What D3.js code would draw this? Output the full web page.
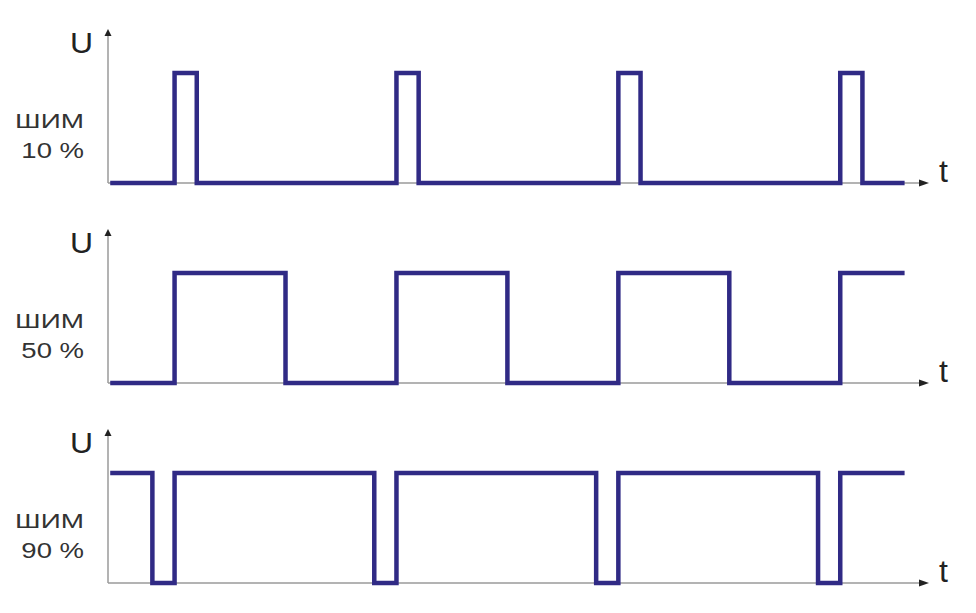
<!DOCTYPE html>
<html><head><meta charset="utf-8">
<script src="https://cdn.jsdelivr.net/npm/d3@7"></script>
<style>body{margin:0;background:#fff}svg{display:block}</style>
</head><body>
<svg id="c" width="976" height="613"></svg>
<script>
// Duty-cycle labels
const labels = ["ШИМ", "ШИМ", "ШИМ"];
const duties = ["10 %", "50 %", "90 %"];
// Edge times (in time units) and levels after each edge (step-after)
const times10 = [0.1, 3, 4, 13, 14, 23, 24, 33, 34, 35.9];
const levels10 = [0, 1, 0, 1, 0, 1, 0, 1, 0, 0];
const times50 = [0.1, 3, 8, 13, 18, 23, 28, 33, 35.9];
const levels50 = [0, 1, 0, 1, 0, 1, 0, 1, 1];
const times90 = [0.1, 2, 3, 12, 13, 22, 23, 32, 33, 35.9];
const levels90 = [1, 0, 1, 0, 1, 0, 1, 0, 1, 1];
const seriesTimes = [times10, times50, times90];
const seriesLevels = [levels10, levels50, levels90];

const svg = d3.select("#c");
const x = d3.scaleLinear().domain([0, 37]).range([108, 929]);
const baselines = [183, 383, 583];
const color = "#302a85";
const axisColor = "#9a9a9a";
const font = "Liberation Sans, Arial, sans-serif";

baselines.forEach((b, i) => {
  const y = d3.scaleLinear().domain([0, 1]).range([b, b - 110]);
  const g = svg.append("g");
  // x axis
  g.append("line").attr("x1", x(0)).attr("x2", x(37) - 6).attr("y1", b).attr("y2", b)
    .attr("stroke", axisColor).attr("stroke-width", 1.5);
  g.append("path").attr("d", `M${x(37)},${b} L${x(37) - 10},${b - 3.5} L${x(37) - 10},${b + 3.5} Z`).attr("fill", "#222");
  // y axis
  const top = b - 154;
  g.append("line").attr("x1", x(0)).attr("x2", x(0)).attr("y1", b).attr("y2", top + 6)
    .attr("stroke", axisColor).attr("stroke-width", 1.5);
  g.append("path").attr("d", `M${x(0)},${top} L${x(0) - 3.5},${top + 7} L${x(0) + 3.5},${top + 7} Z`).attr("fill", "#222");
  // signal
  const data = seriesTimes[i].map((t, k) => [t, seriesLevels[i][k]]);
  g.append("path").datum(data)
    .attr("d", d3.line().x(d => x(d[0])).y(d => y(d[1])).curve(d3.curveStepAfter))
    .attr("fill", "none").attr("stroke", color).attr("stroke-width", 4.5)
    .attr("stroke-linejoin", "miter").attr("stroke-linecap", "butt");
  // texts
  g.append("text").attr("transform", `translate(70,${b - 130}) scale(1.1,1)`).text("U")
    .attr("font-family", font).attr("font-size", 29).attr("fill", "#222");
  g.append("text").attr("x", 939).attr("y", b - 1).text("t")
    .attr("font-family", font).attr("font-size", 32).attr("fill", "#222");
  g.append("text").attr("transform", `translate(84,${b - 55}) scale(1.33,1)`).attr("text-anchor", "end").text(labels[i])
    .attr("font-family", font).attr("font-size", 21).attr("fill", "#333");
  g.append("text").attr("transform", `translate(84,${b - 25}) scale(1.25,1)`).attr("text-anchor", "end").text(duties[i])
    .attr("font-family", font).attr("font-size", 22).attr("fill", "#333");
});
</script>
</body></html>
